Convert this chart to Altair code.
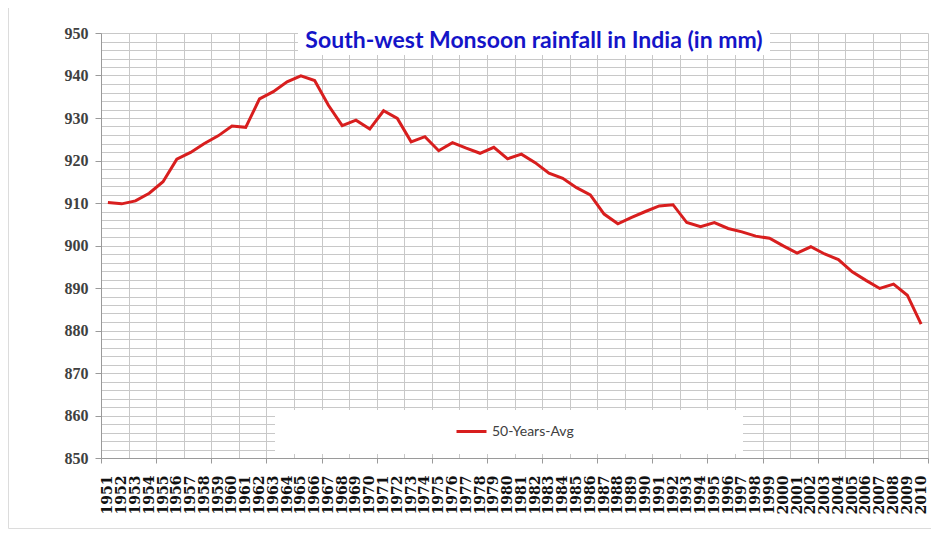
import altair as alt
import pandas as pd

years = list(range(1951, 2011))
values = [910.1, 909.8, 910.5, 912.3, 915.0, 920.3, 921.9, 924.0, 925.8, 928.1,
          927.8, 934.5, 936.2, 938.5, 939.9, 938.8, 933.0, 928.2, 929.5, 927.4,
          931.7, 929.9, 924.4, 925.6, 922.3, 924.2, 922.9, 921.7, 923.1, 920.4,
          921.5, 919.5, 917.0, 915.8, 913.6, 911.9, 907.4, 905.1, 906.6, 908.0,
          909.3, 909.6, 905.4, 904.4, 905.4, 904.0, 903.2, 902.2, 901.7, 899.9,
          898.2, 899.7, 898.0, 896.7, 893.8, 891.8, 889.9, 890.9, 888.3, 881.5]
series_name = "50-Years-Avg"
title_text = "South-west Monsoon rainfall in India (in mm)"
y_ticks = list(range(850, 951, 10))

df = pd.DataFrame({"year": years, "value": values, "series": series_name})
one = pd.DataFrame({"label": [title_text]})

grid_x = [years[0] - 0.5 + 2 * k for k in range(31)]
grid_y = list(range(850, 951, 2))

xscale = alt.Scale(domain=[years[0] - 0.5, years[-1] + 0.5], nice=False, zero=False)
yscale = alt.Scale(domain=[850, 950], nice=False, zero=False)

GRID = "#c8c8c8"
AXIS = "#9a9a9a"

grid_layer = alt.Chart(df).mark_point(opacity=0).encode(
    x=alt.X("year:Q", scale=xscale,
            axis=alt.Axis(orient="bottom", values=grid_x, grid=True, gridColor=GRID,
                          gridWidth=1, labels=False, ticks=True, tickSize=5,
                          tickColor=AXIS,
                          tickOpacity={"condition": {"test": "(datum.value - 1950.5) % 4 == 0",
                                                     "value": 1}, "value": 0},
                          domain=False, title=None)),
    y=alt.Y("value:Q", scale=yscale,
            axis=alt.Axis(orient="left", values=grid_y, grid=True, gridColor=GRID,
                          gridWidth=1, labels=False, ticks=False, domain=False,
                          title=None)),
)

frame = alt.Chart(one).mark_rect(fill=None, stroke="#dcdcdc", strokeWidth=1).encode(
    x=alt.value(-92.5), x2=alt.value(840), y=alt.value(-28), y2=alt.value(495.5)
)
title_box = alt.Chart(one).mark_rect(color="white").encode(
    x=alt.value(197), x2=alt.value(669), y=alt.value(-3), y2=alt.value(22)
)
legend_box = alt.Chart(one).mark_rect(color="white").encode(
    x=alt.value(174), x2=alt.value(642), y=alt.value(377), y2=alt.value(421)
)

line = alt.Chart(df).mark_line(strokeWidth=3).encode(
    x=alt.X("year:Q", scale=xscale,
            axis=alt.Axis(orient="bottom", values=years, labelAngle=-90, grid=False,
                          ticks=False, domain=True, domainColor=AXIS,
                          labelFont="DejaVu Serif", labelFontWeight="bold",
                          labelFontSize=14, labelColor="#111111", labelPadding=17,
                          labelOverlap=False, labelFlush=False, labelBound=False,
                          format="d", title=None)),
    y=alt.Y("value:Q", scale=yscale,
            axis=alt.Axis(orient="left", values=y_ticks, grid=False, ticks=True,
                          tickSize=6, tickColor=AXIS, domain=True, domainColor=AXIS,
                          labelFont="Liberation Serif", labelFontWeight="bold",
                          labelFontSize=16, labelColor="#404040", labelPadding=7,
                          format="d", title=None)),
    color=alt.Color("series:N", scale=alt.Scale(range=["#d81e1e"]),
                    legend=alt.Legend(orient="none", legendX=354, legendY=382,
                                      title=None, symbolType="stroke",
                                      symbolStrokeWidth=3, symbolSize=900,
                                      labelFont="Lato", labelFontSize=14,
                                      labelColor="#404040", padding=0,
                                      labelOffset=4)),
)

title = alt.Chart(one).mark_text(
    font="Lato", fontWeight="bold", fontSize=23, color="#1414c8",
    align="center", baseline="middle"
).encode(x=alt.value(433), y=alt.value(8), text="label:N")

chart = alt.layer(grid_layer, frame, title_box, legend_box, line, title).resolve_axis(
    x="independent", y="independent"
).properties(
    width=827, height=425,
    autosize=alt.AutoSizeParams(type="none"),
    padding={"left": 93, "top": 25, "right": 3, "bottom": 72},
    background="white",
).configure_view(stroke=None)

chart.save("out.html", embed_options={"renderer": "svg", "actions": False})
